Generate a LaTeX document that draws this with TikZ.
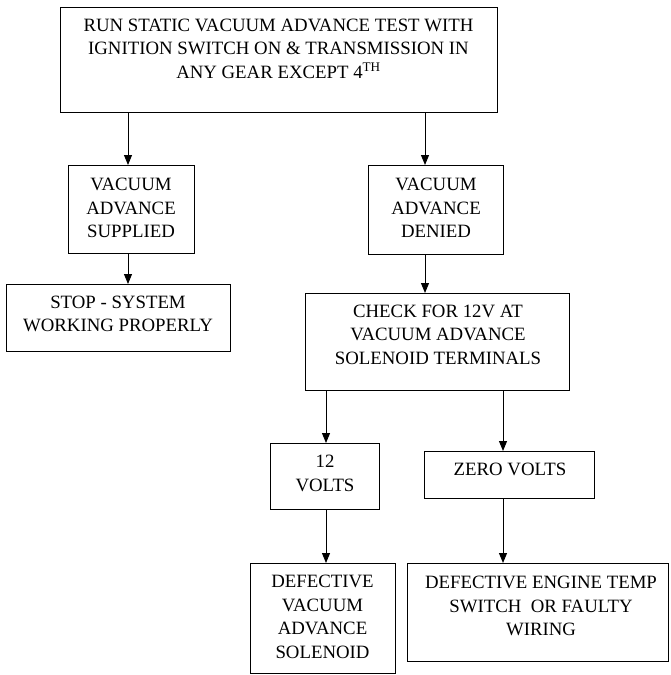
\documentclass[tikz,border=0pt]{standalone}
\usepackage{fontspec}
\setmainfont{Liberation Serif}
\usetikzlibrary{arrows.meta}
\begin{document}
\begin{tikzpicture}[x=1pt,y=-1pt,
  box/.style={draw, line width=1pt, inner sep=0pt, anchor=north west},
  txt/.style={align=center, font=\fontsize{18.8}{23.5}\selectfont, inner sep=0pt},
  arr/.style={-{Triangle[length=10pt,width=8pt]}, line width=1pt}]
\useasboundingbox (0,0) rectangle (671,675);
% boxes
\node[box, minimum width=437pt, minimum height=105pt] (top) at (60,7) {};
\node[box, minimum width=126pt, minimum height=88pt] (sup) at (68,165) {};
\node[box, minimum width=135pt, minimum height=89pt] (den) at (368,165) {};
\node[box, minimum width=224pt, minimum height=67pt] (stop) at (6,284) {};
\node[box, minimum width=264pt, minimum height=97pt] (chk) at (305,293) {};
\node[box, minimum width=109pt, minimum height=66pt] (v12) at (270,443) {};
\node[box, minimum width=170pt, minimum height=47pt] (zero) at (424,451) {};
\node[box, minimum width=145pt, minimum height=110pt] (defv) at (250,563) {};
\node[box, minimum width=261pt, minimum height=98pt] (defe) at (407,563) {};
% texts
\node[txt] (topt) at (278.5,48.5) {RUN STATIC VACUUM ADVANCE TEST WITH\\IGNITION SWITCH ON \& TRANSMISSION IN\\ANY GEAR EXCEPT 4\textsuperscript{TH}};
\node[txt] (supt) at (131,208) {VACUUM\\ADVANCE\\SUPPLIED};
\node[txt] (dent) at (436,208) {VACUUM\\ADVANCE\\DENIED};
\node[txt] (stopt) at (118,314) {STOP - SYSTEM\\WORKING PROPERLY};
\node[txt] (chkt) at (438,334.5) {CHECK FOR 12V AT\\VACUUM ADVANCE\\SOLENOID TERMINALS};
\node[txt] (v12t) at (325,473.5) {12\\VOLTS};
\node[txt] (zerot) at (510,469) {ZERO VOLTS};
\node[txt] (defvt) at (322.5,617) {DEFECTIVE\\VACUUM\\ADVANCE\\SOLENOID};
\node[txt] (defet) at (541,606) {DEFECTIVE ENGINE TEMP\\SWITCH\ \ OR FAULTY\\WIRING};
% arrows
\draw[arr] (128,0 |- top.south) -- (128,0 |- sup.north);
\draw[arr] (425,0 |- top.south) -- (425,0 |- den.north);
\draw[arr] (128,0 |- sup.south) -- (128,0 |- stop.north);
\draw[arr] (425,0 |- den.south) -- (425,0 |- chk.north);
\draw[arr] (326,0 |- chk.south) -- (326,0 |- v12.north);
\draw[arr] (503,0 |- chk.south) -- (503,0 |- zero.north);
\draw[arr] (326,0 |- v12.south) -- (326,0 |- defv.north);
\draw[arr] (503,0 |- zero.south) -- (503,0 |- defe.north);
\end{tikzpicture}
\end{document}
